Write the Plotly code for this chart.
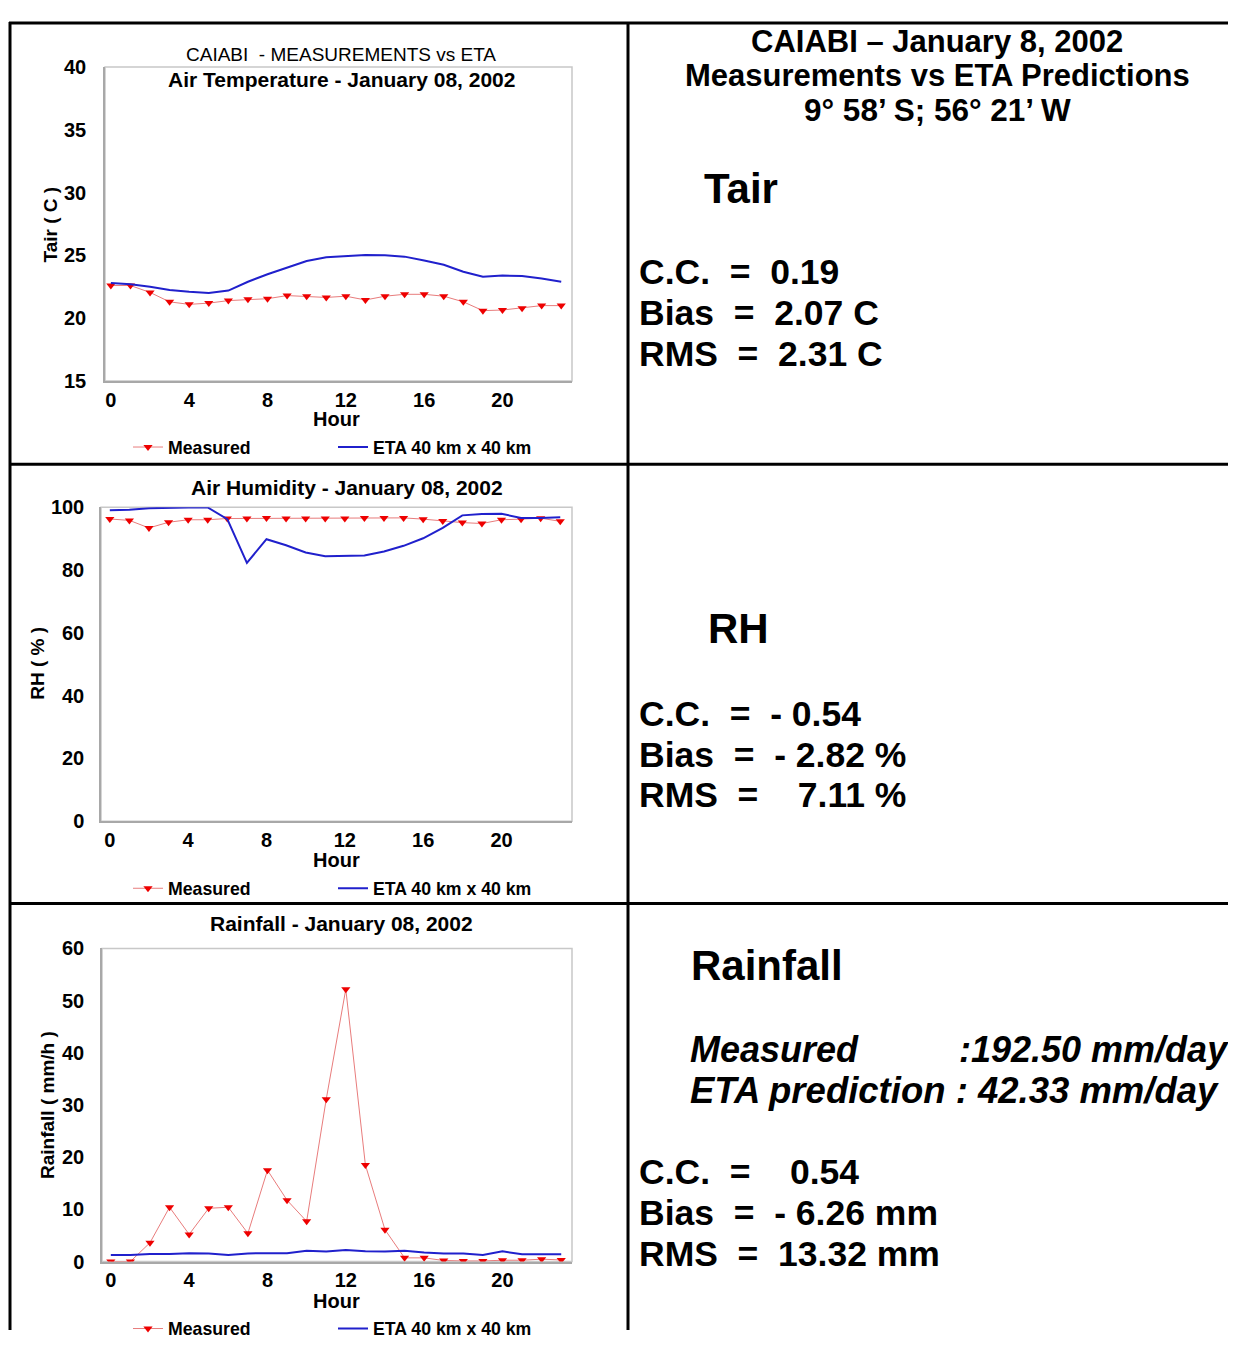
import plotly.graph_objects as go

# ---------------- data ----------------
hours = list(range(24))
x_tick_vals = [0, 4, 8, 12, 16, 20]

tair_measured = [22.6, 22.6, 22.05, 21.3, 21.1, 21.2, 21.4, 21.5, 21.55, 21.8, 21.75, 21.65,
                 21.75, 21.45, 21.75, 21.9, 21.9, 21.75, 21.3, 20.6, 20.65, 20.8, 21.0, 21.0]
tair_eta = [22.8, 22.7, 22.5, 22.25, 22.1, 22.0, 22.2, 22.9, 23.5, 24.0, 24.55, 24.85,
            24.97, 25.03, 25.0, 24.9, 24.6, 24.25, 23.7, 23.3, 23.4, 23.35, 23.15, 22.9]

rh_measured = [96.25, 95.8, 93.4, 95.2, 96.0, 96.0, 96.4, 96.4, 96.6, 96.4, 96.4, 96.4,
               96.4, 96.6, 96.6, 96.6, 96.2, 95.6, 95.1, 94.8, 96.0, 96.2, 96.5, 95.5]
rh_eta = [99.0, 99.2, 99.7, 99.9, 99.9, 99.9, 96.2, 82.3, 89.8, 87.9, 85.6, 84.4,
          84.4, 84.6, 85.9, 87.7, 90.1, 93.4, 97.4, 97.8, 97.9, 96.6, 96.6, 96.8]

rain_measured = [0.0, 0.0, 3.6, 10.4, 5.2, 10.2, 10.4, 5.4, 17.5, 11.75, 7.7, 31.1,
                 52.2, 18.5, 6.1, 0.7, 0.7, 0.2, 0.1, 0.1, 0.25, 0.25, 0.45, 0.3]
rain_eta = [1.25, 1.25, 1.45, 1.45, 1.6, 1.55, 1.25, 1.55, 1.6, 1.6, 2.05, 1.9,
            2.2, 1.95, 1.9, 2.05, 1.75, 1.55, 1.55, 1.25, 1.95, 1.4, 1.4, 1.4]

series_names = ["Measured", "ETA 40 km x 40 km"]

# ---------------- layout helpers ----------------
# page body has an 8px margin; size the figure so the page does not overflow
OFF = 8
W, H = 1236 - 2 * OFF, 1356 - 2 * OFF
FONT = "Liberation Sans, Arial, sans-serif"


def px(x):
    return (x - OFF) / W


def py(y):
    return 1 - (y - OFF) / H


MEAS_LINE = "#e87c7c"
MEAS_MARK = "#ee0000"
ETA_COLOR = "#2020cc"

panels = [
    dict(meas=tair_measured, eta=tair_eta, xd=(105, 572), yd=(57, 378), xr=[-0.3, 23.55],
         yr=[15, 40], dt=5, ys=13),
    dict(meas=rh_measured, eta=rh_eta, xd=(101, 572), yd=(507, 828), xr=[-0.45, 23.6],
         yr=[0, 100], dt=20, ys=11),
    dict(meas=rain_measured, eta=rain_eta, xd=(102, 572), yd=(958, 1278), xr=[-0.45, 23.55],
         yr=[0, 60], dt=10, ys=12),
]

fig = go.Figure()
layout = dict(
    width=W, height=H, margin=dict(l=0, r=0, t=0, b=0),
    paper_bgcolor="white", plot_bgcolor="white",
    font=dict(family=FONT, color="black"),
    showlegend=True,
)

legend_y = [446, 897, 1347]
TICKFONT = dict(size=20, family=FONT, weight="bold", color="black")
LEGFONT = dict(size=17.7, family=FONT, weight="bold", color="black")

for i, p in enumerate(panels):
    n = "" if i == 0 else str(i + 1)
    xa, ya = "x" + n, "y" + n
    lg1, lg2 = "legend" + ("" if i == 0 else str(2 * i + 1)), "legend" + str(2 * i + 2)
    fig.add_trace(go.Scatter(
        x=hours, y=p["meas"], name=series_names[0], xaxis=xa, yaxis=ya, legend=lg1,
        mode="lines+markers", line=dict(color=MEAS_LINE, width=1),
        marker=dict(symbol="triangle-down", size=8, color=MEAS_MARK)))
    fig.add_trace(go.Scatter(
        x=hours, y=p["eta"], name=series_names[1], xaxis=xa, yaxis=ya, legend=lg2,
        mode="lines", line=dict(color=ETA_COLOR, width=2)))

    layout["xaxis" + n] = dict(
        domain=[px(p["xd"][0]), px(p["xd"][1])], range=p["xr"], anchor=ya,
        tickvals=x_tick_vals, showgrid=False, zeroline=False, ticks="",
        showline=True, linecolor="#a8a8a8", linewidth=1.5,
        tickfont=TICKFONT, ticklabelstandoff=0)
    layout["yaxis" + n] = dict(
        domain=[py(p["yd"][1]), py(p["yd"][0])], range=p["yr"], dtick=p["dt"], anchor=xa,
        showgrid=False, zeroline=False, ticks="",
        showline=True, linecolor="#a8a8a8", linewidth=1.5,
        tickfont=TICKFONT, ticklabelstandoff=p["ys"])

    ly = py(legend_y[i])
    layout[lg1] = dict(orientation="h", x=px(128), y=ly, xanchor="left", yanchor="middle",
                       bgcolor="rgba(0,0,0,0)", font=LEGFONT)
    layout[lg2] = dict(orientation="h", x=px(333), y=ly, xanchor="left", yanchor="middle",
                       bgcolor="rgba(0,0,0,0)", font=LEGFONT)

fig.update_layout(**layout)

# plot-box borders (light grey frame around each plotting area)
for i in range(3):
    n = "" if i == 0 else str(i + 1)
    fig.add_shape(type="rect", xref="x" + n + " domain", yref="y" + n + " domain",
                  x0=0, x1=1, y0=0, y1=1, line=dict(color="#c8c8c8", width=1.5),
                  layer="below")

# table grid lines
BL = dict(color="black", width=3)
fig.add_shape(type="line", xref="paper", yref="paper", x0=px(10), x1=px(10), y0=py(11), y1=0, line=BL)
fig.add_shape(type="line", xref="paper", yref="paper", x0=px(628), x1=px(628), y0=py(11), y1=0, line=BL)
for yy in [12, 463, 912]:
    fig.add_shape(type="line", xref="paper", yref="paper", x0=px(9), x1=1, y0=py(yy), y1=py(yy), line=BL)


def ann(text, x, y, size, xanchor="left", angle=0, bold=True, italic=False):
    t = text
    if bold:
        t = "<b>" + t + "</b>"
    if italic:
        t = "<i>" + t + "</i>"
    fig.add_annotation(text=t, x=px(x), y=py(y), xref="paper", yref="paper",
                       xanchor=xanchor, yanchor="middle", showarrow=False, textangle=angle,
                       font=dict(size=size, family=FONT, color="black"))


# chart titles
ann("CAIABI  - MEASUREMENTS vs ETA".replace(" ", "\u00a0"), 341, 44, 19, "center", bold=False)
ann("Air Temperature - January 08, 2002", 341, 70, 21, "center")
ann("Air Humidity - January 08, 2002", 347, 487, 21, "center")
ann("Rainfall - January 08, 2002", 341, 932, 21, "center")

# axis titles
for yy in [417, 868, 1318]:
    ann("Hour", 336, yy, 20, "center")
ann("Tair ( C )", 50, 218, 19, "center", angle=-90)
ann("RH ( % )", 38, 667, 19, "center", angle=-90)
ann("Rainfall ( mm/h )", 48, 1118, 19, "center", angle=-90)

# right column text
S = "\u00a0"
ann("CAIABI – January 8, 2002", 937, 31, 31, "center")
ann("Measurements vs ETA Predictions", 937, 66, 31, "center")
ann("9° 58’ S; 56° 21’ W", 937, 101, 31.5, "center")

ST = 35.5
ann("Tair", 702, 181, 42)
ann("C.C." + S * 2 + "=" + S * 2 + "0.19", 637, 267, ST)
ann("Bias" + S * 2 + "=" + S * 2 + "2.07 C", 637, 308, ST)
ann("RMS" + S * 2 + "=" + S * 2 + "2.31 C", 637, 350, ST)

ann("RH", 706, 631, 42)
ann("C.C." + S * 2 + "=" + S * 2 + "- 0.54", 637, 718, ST)
ann("Bias" + S * 2 + "=" + S * 2 + "- 2.82 %", 637, 760, ST)
ann("RMS" + S * 2 + "=" + S * 4 + "7.11 %", 637, 801, ST)

ann("Rainfall", 689, 975, 42)
ann("Measured", 688, 1061, 36, italic=True)
ann(":192.50 mm/day", 957, 1061, 36, italic=True)
ann("ETA prediction : 42.33 mm/day", 688, 1103, 36.5, italic=True)
ann("C.C." + S * 2 + "=" + S * 4 + "0.54", 637, 1186, ST)
ann("Bias" + S * 2 + "=" + S * 2 + "- 6.26 mm", 637, 1228, ST)
ann("RMS" + S * 2 + "=" + S * 2 + "13.32 mm", 637, 1270, ST)

fig.write_html("out.html")
